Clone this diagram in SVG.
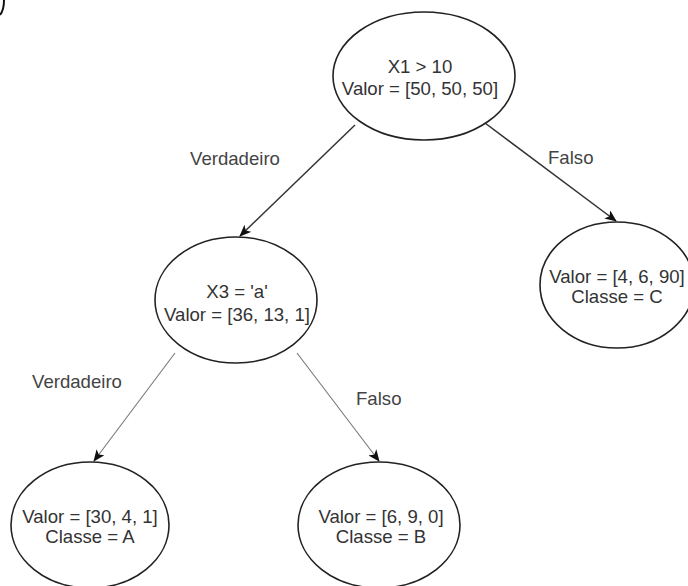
<svg xmlns="http://www.w3.org/2000/svg" width="688" height="586" viewBox="0 0 688 586">
<style>
.node{fill:#fff;stroke:#222;stroke-width:1.6}
.t{font-family:"Liberation Sans",Arial,sans-serif;font-size:18.6px;fill:#333;text-anchor:middle}
.lbl{font-family:"Liberation Sans",Arial,sans-serif;font-size:18.6px;fill:#444}
.e1{stroke:#333;stroke-width:1.5;fill:none}
.e2{stroke:#777;stroke-width:1.1;fill:none}
</style>
<defs>
<marker id="ah" viewBox="0 0 12 10" refX="11" refY="5" markerWidth="12" markerHeight="10" markerUnits="userSpaceOnUse" orient="auto">
<path d="M0,0 L12,5 L0,10 L3,5 Z" fill="#111"/>
</marker>
</defs>
<rect width="688" height="586" fill="#fff"/>
<path d="M4,0 Q4,10 0,15" fill="none" stroke="#111" stroke-width="2"/>
<g id="connectors">
<line class="e1" x1="355" y1="125" x2="240" y2="236" marker-end="url(#ah)"/>
<line class="e1" x1="485" y1="123" x2="616" y2="221" marker-end="url(#ah)"/>
<line class="e2" x1="175" y1="353" x2="94" y2="461" marker-end="url(#ah)"/>
<line class="e2" x1="297" y1="353" x2="379" y2="461" marker-end="url(#ah)"/>
<text class="lbl" x="190" y="165">Verdadeiro</text>
<text class="lbl" x="548" y="164">Falso</text>
<text class="lbl" x="32" y="388">Verdadeiro</text>
<text class="lbl" x="356" y="405">Falso</text>
</g>
<g id="root">
<ellipse class="node" cx="424" cy="76" rx="91" ry="64"/>
<text class="t" x="420" y="73">X1 &gt; 10</text>
<text class="t" x="420" y="95">Valor = [50, 50, 50]</text>
</g>
<g id="x3">
<ellipse class="node" cx="236" cy="300" rx="81" ry="63"/>
<text class="t" x="237" y="298">X3 = 'a'</text>
<text class="t" x="237" y="321">Valor = [36, 13, 1]</text>
</g>
<g id="classC">
<ellipse class="node" cx="617" cy="285" rx="77" ry="63"/>
<text class="t" x="617" y="283">Valor = [4, 6, 90]</text>
<text class="t" x="617" y="303">Classe = C</text>
</g>
<g id="classA">
<ellipse class="node" cx="90" cy="525" rx="79" ry="63"/>
<text class="t" x="90" y="523">Valor = [30, 4, 1]</text>
<text class="t" x="90" y="543">Classe = A</text>
</g>
<g id="classB">
<ellipse class="node" cx="379" cy="525" rx="81" ry="63"/>
<text class="t" x="381" y="523">Valor = [6, 9, 0]</text>
<text class="t" x="381" y="543">Classe = B</text>
</g>
</svg>
